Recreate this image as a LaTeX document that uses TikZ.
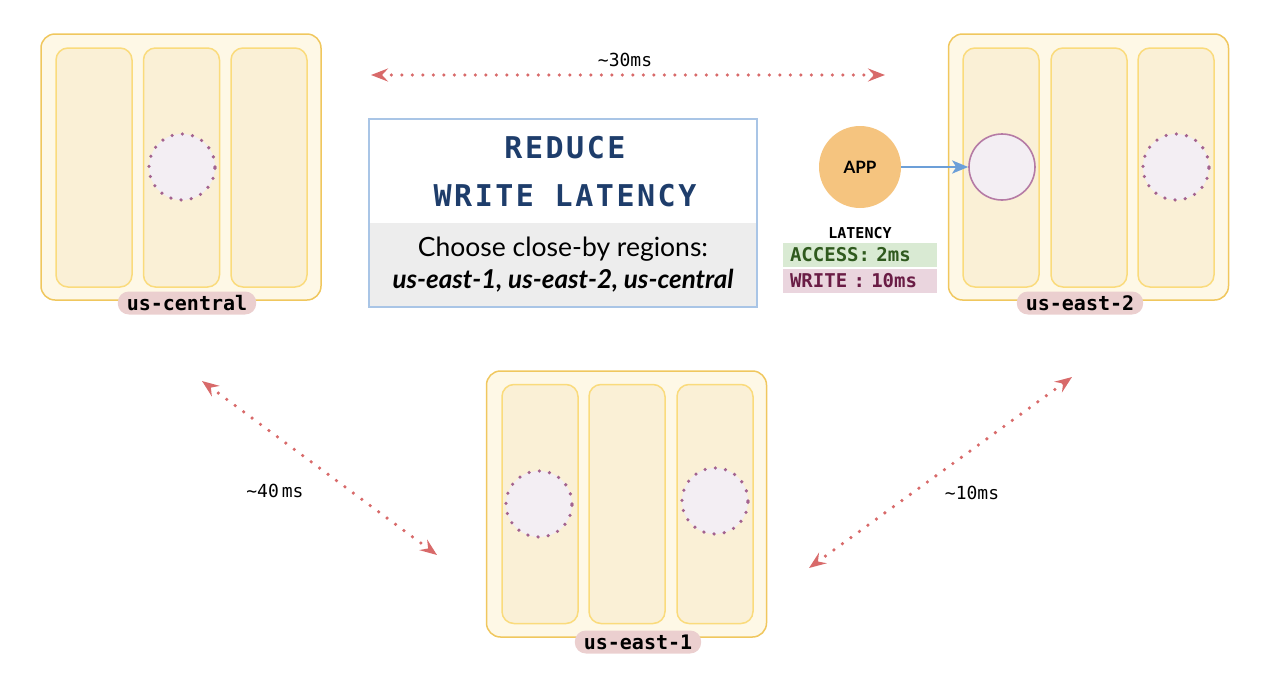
\documentclass[tikz,border=0pt]{standalone}
\usepackage{fontspec}
\setmainfont{Lato}
\newfontfamily\monof{DejaVu Sans Mono}
\newfontfamily\titlef[LetterSpace=8.5]{DejaVu Sans Mono}
\usetikzlibrary{arrows.meta}
\definecolor{regfill}{HTML}{FEF8E6}
\definecolor{regline}{HTML}{F0C75E}
\definecolor{zonefill}{HTML}{FAF0D6}
\definecolor{zoneline}{HTML}{FADB7C}
\definecolor{repfill}{HTML}{F3EEF3}
\definecolor{repline}{HTML}{A3628F}
\definecolor{repline2}{HTML}{B57BA5}
\definecolor{pillfill}{HTML}{EBCFCF}
\definecolor{latred}{HTML}{D86A6A}
\definecolor{appfill}{HTML}{F5C47F}
\definecolor{appblue}{HTML}{6C9FD8}
\definecolor{boxline}{HTML}{A9C5E6}
\definecolor{graybg}{HTML}{EDEDED}
\definecolor{titleblue}{HTML}{1E3D6B}
\definecolor{accfill}{HTML}{D9EAD3}
\definecolor{acctext}{HTML}{2F5A1E}
\definecolor{wrfill}{HTML}{EAD5DE}
\definecolor{wrtext}{HTML}{6A1C45}
\tikzset{
  region/.style={draw=regline, fill=regfill, line width=1.5pt, rounded corners=14pt,
    minimum width=280pt, minimum height=266pt, inner sep=0pt},
  zone/.style={draw=zoneline, fill=zonefill, line width=1.5pt, rounded corners=12pt,
    minimum width=76pt, minimum height=239pt, inner sep=0pt},
  replica/.style={circle, fill=repfill, minimum size=66pt, inner sep=0pt},
  follower/.style={replica, draw=repline, line width=3.6pt, line cap=round,
    dash pattern=on 0pt off 10.3pt},
  leader/.style={replica, draw=repline2, line width=1.6pt},
  pill/.style={fill=pillfill, rounded corners=11pt, minimum height=23pt,
    inner xsep=9pt, inner ysep=0pt, text=black,
    font=\monof\bfseries\fontsize{20}{20}\selectfont},
  latarrow/.style={draw=latred, line width=3.6pt, line cap=round,
    dash pattern=on 0pt off 10.5pt, {Stealth[length=17pt,width=13pt,inset=6pt]}-{Stealth[length=17pt,width=13pt,inset=6pt]}},
  mslabel/.style={font=\monof\fontsize{18}{18}\selectfont, text=black},
  rowbox/.style={minimum width=154pt, minimum height=24pt, text width=140pt,
    inner xsep=7pt, inner ysep=0pt, align=left,
    font=\monof\bfseries\fontsize{19}{19}\selectfont},
}
\begin{document}
\begin{tikzpicture}[x=1pt,y=-1pt]
\useasboundingbox (0,0) rectangle (1280,683);

% ---------------- us-central ----------------
\node[region] (cent) at (181,167) {};
\node[zone] (cent1) at (94,167.5) {};
\node[zone] (cent2) at (181.5,167.5) {};
\node[zone] (cent3) at (269,167.5) {};
\node[follower] (centf) at (182,167) {};
\node[pill] (centlbl) at (187,303) {us-central};

% ---------------- us-east-2 ----------------
\node[region] (east2) at (1088.5,167) {};
\node[zone] (east21) at (1001,167.5) {};
\node[zone] (east22) at (1089,167.5) {};
\node[zone] (east23) at (1176,167.5) {};
\node[leader] (east2l) at (1002,167) {};
\node[follower] (east2f) at (1176,167) {};
\node[pill] (east2lbl) at (1080,303) {us-east-2};

% ---------------- us-east-1 ----------------
\node[region] (east1) at (626.5,504) {};
\node[zone] (east11) at (540,504) {};
\node[zone] (east12) at (627,504) {};
\node[zone] (east13) at (715,504) {};
\node[follower] (east1fa) at (539,504) {};
\node[follower] (east1fb) at (715,501) {};
\node[pill] (east1lbl) at (638,642) {us-east-1};

% ---------------- title box ----------------
\node[fill=graybg, minimum width=388pt, minimum height=84pt, inner sep=0pt] (tgray) at (563,265) {};
\node[draw=boxline, line width=1.5pt, minimum width=388pt, minimum height=188pt, inner sep=0pt] (tbox) at (563,213) {};
\node[anchor=base, text=titleblue, font=\titlef\bfseries\fontsize{30}{30}\selectfont, inner sep=0pt] (title1) at (565,158) {REDUCE};
\node[anchor=base, text=titleblue, font=\titlef\bfseries\fontsize{30}{30}\selectfont, inner sep=0pt] (title2) at (565,206.5) {WRITE LATENCY};
\node[anchor=base, font=\fontsize{26.5}{26.5}\selectfont, inner sep=0pt] (sub1) at (563,256) {Choose close-by regions:};
\node[anchor=base, font=\bfseries\itshape\fontsize{26}{26}\selectfont, inner sep=0pt] (sub2) at (563,288) {us-east-1, us-east-2, us-central};

% ---------------- app ----------------
\node[circle, fill=appfill, minimum size=82pt, inner sep=0pt,
  font=\bfseries\fontsize{17}{17}\selectfont] (app) at (860,167) {APP};
\draw[draw=appblue, line width=2.5pt, -{Stealth[length=16pt,width=13pt,inset=4pt]}] (app) -- (east2l);
\node[font=\monof\bfseries\fontsize{15}{15}\selectfont] (lat) at (860,233) {LATENCY};
\node[rowbox, fill=accfill, text=acctext] (acc) at (860,255) {ACCESS: 2ms};
\node[rowbox, fill=wrfill, text=wrtext] (wr) at (860,281) {WRITE : 10ms};

% ---------------- latency arrows ----------------
\coordinate (a30l) at (371,75);
\coordinate (a30r) at (885,75);
\draw[latarrow] (a30l) -- (a30r);
\node[mslabel] (l30) at (625,60) {{\char"7E}30ms};

\coordinate (a40a) at (202,381);
\coordinate (a40b) at (437,555);
\draw[latarrow] (a40a) -- (a40b);
\node[mslabel] (l40) at (275,491) {{\char"7E}40\hspace{3pt}ms};

\coordinate (a10a) at (809,568);
\coordinate (a10b) at (1072,377);
\draw[latarrow] (a10a) -- (a10b);
\node[mslabel] (l10) at (972,493) {{\char"7E}10ms};
\end{tikzpicture}
\end{document}
